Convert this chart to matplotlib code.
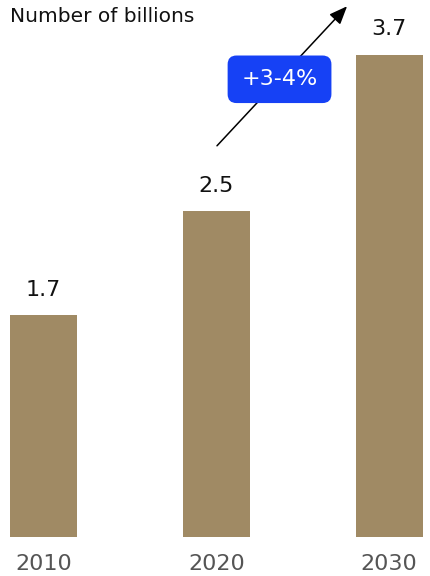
import matplotlib
matplotlib.use("Agg")
import matplotlib.pyplot as plt

years = ["2010", "2020", "2030"]
values = [1.7, 2.5, 3.7]
value_labels = ["1.7", "2.5", "3.7"]
growth_label = "+3-4%"
title = "Number of billions"

BAR = "#a08a64"
BLUE = "#1641f5"

plt.rcParams["font.family"] = ["DejaVu Sans"]

fig = plt.figure(figsize=(4.3, 5.76), dpi=100)
ax = fig.add_axes([0, 39 / 576, 1, 537 / 576])
xs = list(range(len(years)))
ax.bar(xs, values, width=0.388, color=BAR)
ax.set_xlim(-0.252, 2.237)
ax.set_ylim(0, 4.118)
for s in ax.spines.values():
    s.set_visible(False)
ax.set_yticks([])
ax.set_xticks([])

for x, v, lab in zip(xs, values, value_labels):
    ax.annotate(lab, (x, v), xytext=(0, 11), textcoords="offset points",
                ha="center", va="bottom", fontsize=16, color="#111111")

for x, yr in zip(xs, years):
    ax.annotate(yr, (x, 0), xytext=(0, -12), textcoords="offset points",
                ha="center", va="top", fontsize=16, color="#555555",
                annotation_clip=False)

# growth arrow
ax.annotate("", xy=(1.757, 4.07), xytext=(1.004, 3.0),
            arrowprops=dict(arrowstyle="-|>,head_length=1.1,head_width=0.45",
                            color="black", lw=1.1, shrinkA=0, shrinkB=0),
            annotation_clip=False)
ax.text(1.366, 3.51, growth_label, ha="center", va="center", fontsize=16,
        color="white",
        bbox=dict(boxstyle="round,pad=0.62,rounding_size=0.4",
                  facecolor=BLUE, edgecolor="none"))

fig.text(10 / 430, 1 - 16 / 576, title, ha="left", va="center",
         fontsize=14.5, color="#111111")

fig.savefig("out.png", dpi=100)
